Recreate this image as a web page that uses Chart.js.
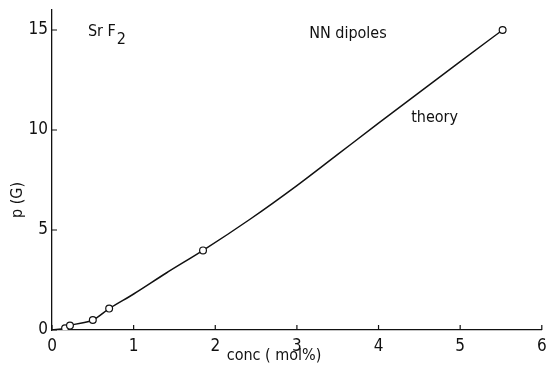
<!DOCTYPE html>
<html>
<head>
<meta charset="utf-8">
<script src="https://cdn.jsdelivr.net/npm/chart.js@4/dist/chart.umd.min.js"></script>
<style>
  html, body { margin: 0; padding: 0; background: #fff; }
  #wrap { width: 547px; height: 371px; position: relative; }
</style>
</head>
<body>
<div id="wrap"><canvas id="c"></canvas></div>
<script>
// datos medidos (conc mol%, p(G))
const concPts = [0.16, 0.22, 0.50, 0.70, 1.85, 5.52];
const pPts    = [0.09, 0.22, 0.50, 1.07, 3.98, 15.0];

// curva teórica
const theoryX = [0, 0.16, 0.22, 0.5, 0.7, 1.0, 1.4, 1.85, 2.43, 3.0, 3.5, 4.0, 4.5, 5.0, 5.52];
const theoryY = [0, 0.09, 0.22, 0.5, 1.07, 1.8, 2.85, 3.98, 5.55, 7.22, 8.78, 10.34, 11.88, 13.42, 15.0];

const xTicks = [0, 1, 2, 3, 4, 5, 6];
const yTicks = [0, 5, 10, 15];

const FONT = '"DejaVu Sans Condensed", "Liberation Sans Narrow", sans-serif';
const INK = '#111';

// ticks hacia dentro y textos sueltos
const extras = {
  id: 'extras',
  afterDraw(chart) {
    const { ctx, scales: { x, y } } = chart;
    ctx.save();
    ctx.strokeStyle = INK;
    ctx.lineWidth = 1.2;
    ctx.beginPath();
    xTicks.forEach(v => {
      const px = x.getPixelForValue(v);
      ctx.moveTo(px, y.bottom); ctx.lineTo(px, y.bottom - 5);
    });
    yTicks.forEach(v => {
      const py = y.getPixelForValue(v);
      ctx.moveTo(x.left, py); ctx.lineTo(x.left + 5, py);
    });
    ctx.stroke();

    ctx.fillStyle = INK;
    ctx.textBaseline = 'middle';
    ctx.font = '16px ' + FONT;
    // SrF2
    let sx = x.getPixelForValue(0.44), sy = y.getPixelForValue(14.9);
    ctx.textAlign = 'left';
    ctx.fillText('Sr F', sx, sy);
    const w = ctx.measureText('Sr F').width;
    ctx.fillText('2', sx + w + 1, sy + 8);
    // NN dipoles
    ctx.fillText('NN dipoles', x.getPixelForValue(3.15), y.getPixelForValue(14.8));
    // theory
    ctx.fillText('theory', x.getPixelForValue(4.4), y.getPixelForValue(10.6));
    // titulos de ejes
    ctx.textAlign = 'center';
    ctx.fillText('conc ( mol%)', x.getPixelForValue(2.72), y.bottom + 26);
    ctx.translate(18, y.getPixelForValue(6.5));
    ctx.rotate(-Math.PI / 2);
    ctx.fillText('p (G)', 0, 0);
    ctx.restore();
  }
};

new Chart(document.getElementById('c'), {
  type: 'scatter',
  data: {
    datasets: [
      {
        label: 'theory',
        type: 'line',
        data: theoryX.map((v, i) => ({ x: v, y: theoryY[i] })),
        borderColor: INK,
        borderWidth: 1.5,
        pointRadius: 0,
        cubicInterpolationMode: 'monotone',
        fill: false,
        order: 2,
      },
      {
        label: 'measured',
        data: concPts.map((v, i) => ({ x: v, y: pPts[i] })),
        pointRadius: 3.4,
        pointBorderWidth: 1.2,
        pointBorderColor: INK,
        pointBackgroundColor: '#fff',
        order: 1,
      },
    ],
  },
  options: {
    responsive: true,
    maintainAspectRatio: false,
    animation: false,
    layout: { padding: { top: 10, right: 5, left: 0, bottom: 0 } },
    plugins: { legend: { display: false }, tooltip: { enabled: false } },
    scales: {
      x: {
        type: 'linear',
        min: 0, max: 6,
        afterBuildTicks: s => { s.ticks = xTicks.map(v => ({ value: v })); },
        afterFit: s => { s.height = 41; s.paddingRight = 0; s.paddingLeft = 0; },
        grid: { display: false, drawTicks: false },
        border: { color: INK, width: 1.3 },
        ticks: { color: INK, padding: 6, font: { family: FONT, size: 17 } },
      },
      y: {
        type: 'linear',
        min: 0, max: 16,
        afterBuildTicks: s => { s.ticks = yTicks.map(v => ({ value: v })); },
        afterFit: s => { s.width = 52; s.paddingTop = 0; s.paddingBottom = 0; },
        grid: { display: false, drawTicks: false },
        border: { color: INK, width: 1.3 },
        ticks: { color: INK, padding: 4, font: { family: FONT, size: 17 } },
      },
    },
  },
  plugins: [extras],
});
</script>
</body>
</html>
